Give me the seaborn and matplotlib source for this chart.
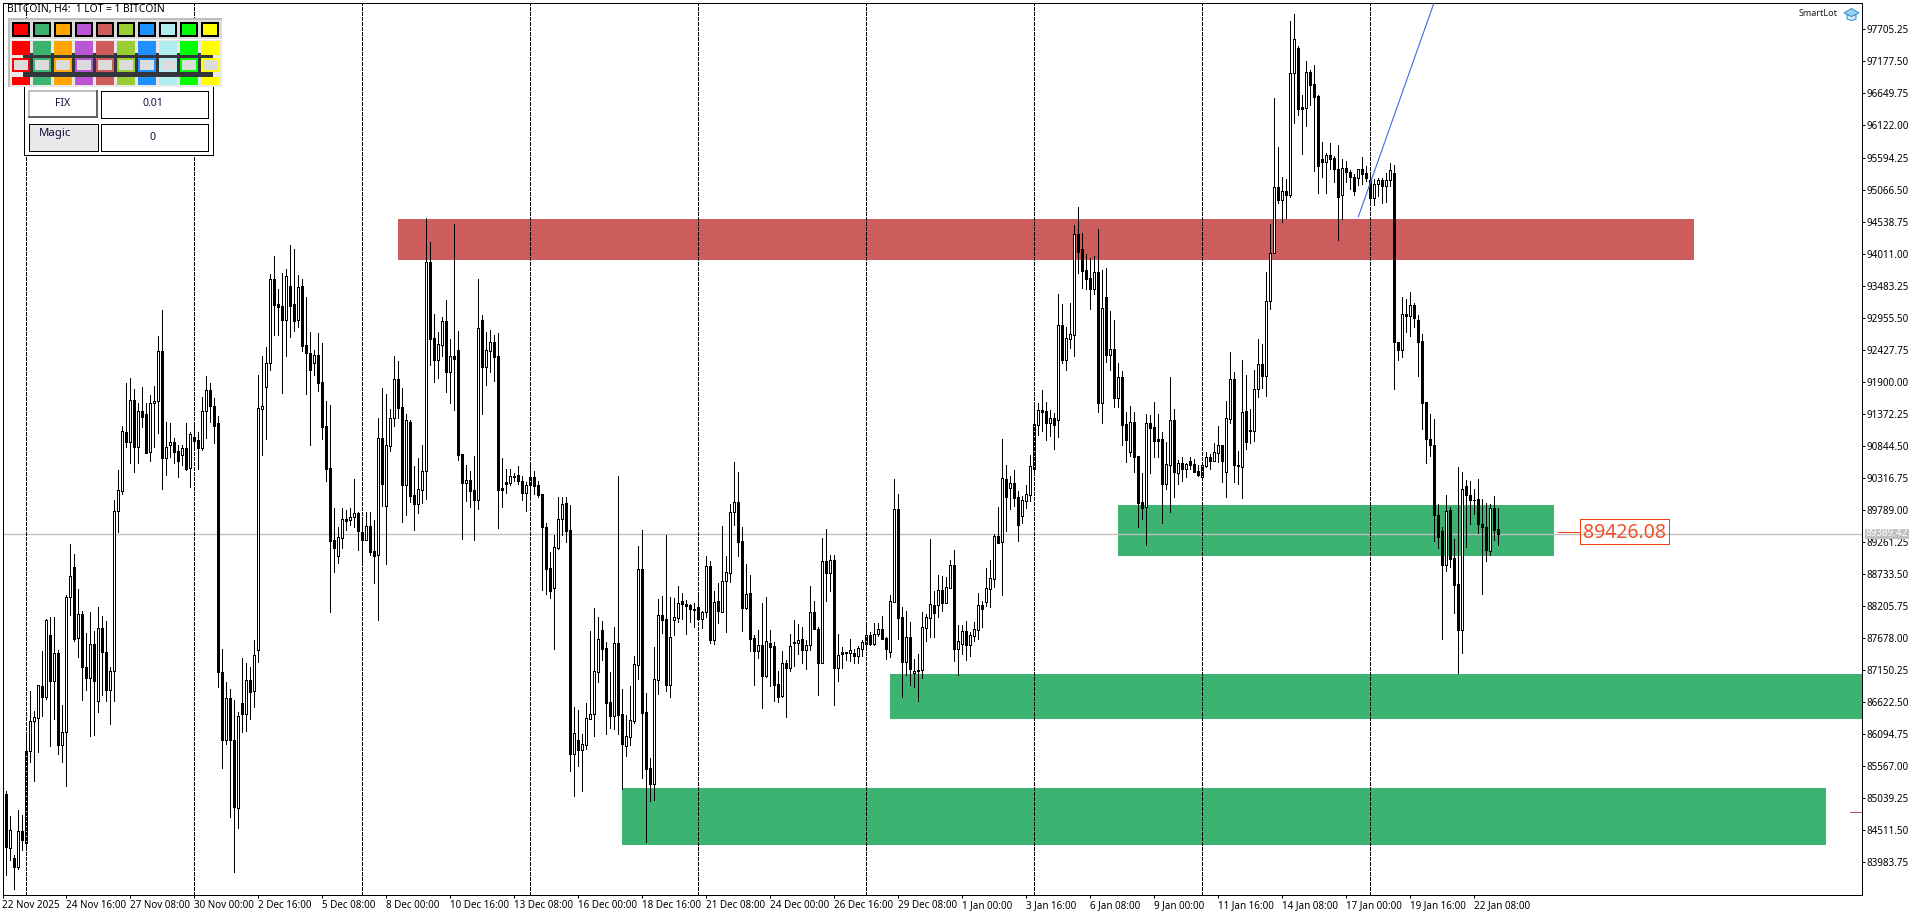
import matplotlib
matplotlib.use("Agg")
import matplotlib.pyplot as plt
from matplotlib.patches import Rectangle, Polygon
import numpy as np
import pandas as pd
import seaborn as sns

# BITCOIN H4 candles
opens = [
    85306, 85107, 84215, 84048, 83905, 84500, 84302, 85814, 86310, 86359,
    86886, 86700, 87728, 86979, 87437, 85925, 86124, 88354, 88844, 87673,
    88082, 87202, 87028, 87586, 86650, 87846, 87450, 86817, 87134, 89779,
    90108, 91068, 90901, 91601, 90833, 91421, 91372, 90752, 91545, 91576,
    92400, 90653, 90851, 90907, 90758, 90702, 90814, 90479, 90987, 90938,
    90802, 91415, 91762, 91496, 91217, 87115, 85993, 86694, 86000, 84878,
    86607, 86421, 86991, 86800, 87484, 91459, 91821, 92206, 93589, 93177,
    93144, 92925, 93474, 93177, 92925, 93474, 92502, 92381, 92206, 92337,
    91893, 91168, 90476, 89290, 89038, 89334, 89636, 89631, 89669, 89735,
    89428, 89301, 89521, 89109, 89054, 90970, 89861, 90850, 91300, 91948,
    91481, 90207, 91234, 90032, 89894, 90125, 90438, 93869, 92617, 92266,
    92513, 92897, 92063, 92321, 92420, 90707, 90240, 90279, 90114, 89960,
    92914, 92151, 92414, 92551, 92321, 90147, 90245, 90240, 90339, 90366,
    90262, 90075, 90207, 90328, 90196, 90048, 89504, 88835, 88511, 89164,
    89636, 89900, 89455, 85777, 86002, 85842, 85925, 86353, 86424, 87127,
    87808, 87511, 86622, 86402, 87594, 86424, 85908, 86057, 86320, 87242,
    88813, 86457, 85535, 85282, 86995, 88055, 87989, 86913, 87984, 88017,
    88286, 88242, 88225, 88143, 88187, 88000, 88104, 88862, 87654, 88286,
    88104, 88615, 88758, 89762, 89916, 89274, 88170, 88417, 87676, 87473,
    87561, 87056, 87594, 87544, 86918, 86726, 87264, 87193, 87605, 87605,
    87660, 87479, 87572, 88104, 87830, 87275, 88944, 88758, 88961, 87182,
    87451, 87451, 87440, 87429, 87391, 87506, 87583, 87731, 87583, 87748,
    87824, 87676, 87457, 88280, 89801, 88022, 87292, 87693, 87100, 87155,
    87149, 87852, 88017, 88225, 88220, 88467, 88264, 88511, 88878, 87506,
    87588, 87791, 87572, 87720, 87819, 88220, 88275, 88494, 88659, 89362,
    89257, 90294, 90157, 90229, 89998, 89696, 89943, 90042, 90470, 91195,
    91431, 91420, 91228, 91299, 91277, 92831, 92265, 92611, 92677, 94335,
    94082, 93737, 93605, 93435, 93704, 91557, 93292, 92348, 92435, 91639,
    91974, 91200, 90750, 91233, 90673, 89916, 89833, 91217, 91151, 90953,
    90953, 90223, 90536, 91266, 90404, 90558, 90470, 90596, 90541, 90432,
    90338, 90519, 90657, 90596, 90733, 90854, 90421, 91294, 91941, 90536,
    90503, 91420, 91090, 91093, 91775, 92191, 92001, 93226, 94028, 95105,
    94887, 95035, 94972, 96985, 97393, 96429, 96415, 96999, 96802, 96605,
    95570, 95528, 95633, 95584, 95408, 94972, 95415, 95359, 95267, 95253,
    95401, 95338, 95225, 94922, 95155, 95218, 95119, 95218, 95345, 92550,
    92430, 93014, 92979, 93162, 92916, 92571, 91564, 90952, 90867, 89706,
    89445, 88889, 89790, 89002, 88565, 87819, 90191, 90030, 89945, 89966,
    89558, 89509, 89121, 89825, 89474,
]
closes = [
    85089, 84234, 84525, 83905, 84500, 84345, 85814, 86310, 86372, 86904,
    86700, 87976, 86979, 87425, 85925, 86124, 88354, 88695, 87666, 88069,
    87196, 87028, 87580, 86979, 87840, 87443, 86817, 87134, 89767, 90114,
    91087, 90901, 91595, 90833, 91415, 91328, 90733, 91545, 91582, 92400,
    90653, 90820, 90907, 90752, 90603, 90808, 90461, 91037, 90925, 90802,
    91415, 91762, 91496, 91180, 87115, 85993, 86694, 85993, 84891, 86396,
    86421, 86985, 86787, 87400, 91464, 91508, 92206, 93589, 93172, 93139,
    92925, 93638, 93155, 92908, 93457, 92497, 92381, 92101, 92337, 91887,
    91162, 90471, 89285, 89170, 89340, 89636, 89609, 89680, 89735, 89450,
    89301, 89521, 89104, 89038, 90970, 90218, 90855, 91300, 91942, 91475,
    90202, 91267, 90026, 89894, 90130, 90427, 93869, 92612, 92266, 92518,
    92897, 92063, 92321, 92282, 90696, 90240, 90279, 90108, 89960, 92782,
    92151, 92420, 92551, 92315, 90125, 90119, 90223, 90344, 90355, 90267,
    90075, 90202, 90328, 90191, 90042, 89515, 88824, 88461, 89175, 89636,
    89883, 89449, 85777, 86112, 85842, 85930, 86359, 86424, 87133, 87660,
    87500, 86617, 86402, 87594, 86419, 85941, 86062, 86326, 87248, 88813,
    86452, 85530, 85282, 87001, 88055, 87984, 86913, 87693, 88022, 88264,
    88247, 88214, 88154, 88154, 88000, 88104, 88862, 87654, 88280, 88132,
    88615, 88763, 89762, 89916, 89268, 88181, 88412, 87671, 87473, 87561,
    87061, 87627, 87539, 86907, 86715, 87264, 87182, 87544, 87616, 87654,
    87479, 87572, 88104, 87835, 87275, 88944, 88758, 88961, 87193, 87396,
    87424, 87429, 87479, 87391, 87511, 87616, 87726, 87588, 87748, 87824,
    87665, 87506, 88286, 89801, 88017, 87292, 87693, 87177, 87133, 87133,
    87857, 88022, 88236, 88099, 88467, 88264, 88516, 88878, 87500, 87627,
    87791, 87566, 87726, 87824, 88220, 88165, 88500, 88664, 89362, 89252,
    90311, 90003, 90229, 89992, 89548, 89948, 90047, 90509, 91200, 91431,
    91403, 91228, 91299, 91195, 92831, 92260, 92617, 92683, 94330, 94044,
    93731, 93599, 93435, 93704, 91557, 93111, 92348, 92435, 91639, 91974,
    91195, 90948, 91233, 90668, 89910, 89828, 91217, 91145, 90931, 90931,
    90218, 90541, 91266, 90415, 90558, 90470, 90541, 90530, 90421, 90366,
    90525, 90657, 90602, 90739, 90854, 90602, 91299, 91941, 90536, 90519,
    91398, 90915, 91101, 91775, 92191, 92001, 93226, 94028, 95105, 94887,
    95035, 94972, 96985, 97555, 96394, 96394, 96999, 96795, 96598, 95450,
    95528, 95633, 95577, 95401, 94950, 95415, 95352, 95267, 95049, 95401,
    95324, 95260, 94922, 95155, 95218, 95119, 95218, 95387, 92550, 92430,
    93014, 92979, 93162, 92944, 92564, 91557, 90952, 90860, 89699, 89347,
    88875, 89769, 88988, 88558, 87819, 90128, 90030, 89945, 89952, 89551,
    89501, 89135, 89818, 89466, 89389,
]
highs = [
    85306, 85163, 84748, 84110, 84847, 84761, 86093, 86805, 86483, 86904,
    87468, 87989, 88032, 88032, 87487, 86582, 88385, 89234, 89067, 88490,
    88125, 87766, 88113, 87797, 88193, 88044, 87964, 87208, 89953, 90448,
    91167, 91880, 91966, 91781, 91545, 91812, 91545, 91688, 91824, 92648,
    93082, 91235, 91229, 90969, 90857, 90857, 91223, 91068, 91173, 91068,
    91644, 91991, 91873, 91638, 91341, 87499, 86960, 86842, 86663, 86464,
    87357, 87270, 87208, 87650, 92013, 92326, 92475, 93671, 93973, 93430,
    93688, 93754, 94155, 94089, 93660, 93595, 93293, 92722, 92420, 92700,
    92535, 91580, 91514, 89818, 89510, 89818, 89790, 89818, 90301, 89763,
    89653, 89763, 89752, 89625, 91300, 91799, 91700, 91448, 92326, 92244,
    91799, 91366, 91272, 90515, 90646, 90860, 94599, 94204, 93018, 92722,
    92974, 93249, 92606, 94500, 92738, 90707, 90526, 90432, 90674, 93589,
    92996, 92727, 92749, 92672, 92700, 90641, 90465, 90465, 90405, 90514,
    90350, 90256, 90547, 90427, 90262, 90048, 89570, 89098, 89378, 90004,
    90004, 90004, 89872, 86545, 86496, 86101, 86611, 87797, 88170, 88022,
    87962, 87616, 87116, 87863, 90350, 86842, 86413, 86891, 87385, 89191,
    89460, 86776, 85705, 87533, 88324, 88373, 89378, 88351, 88335, 88538,
    88417, 88313, 88247, 88253, 88390, 88132, 89027, 88955, 88456, 88588,
    89526, 89027, 89883, 90575, 90416, 89504, 88895, 88719, 87731, 87813,
    88253, 88357, 87808, 87621, 87138, 87467, 87319, 87748, 87978, 87912,
    87868, 87649, 88538, 88291, 87868, 89323, 89471, 89049, 89049, 87748,
    87539, 87457, 87665, 87500, 87555, 87643, 87912, 87786, 87929, 87934,
    88044, 87704, 88390, 90300, 90053, 88187, 88121, 87940, 87336, 87418,
    88104, 88077, 89312, 88456, 88714, 88703, 88692, 88966, 89131, 87896,
    87896, 87962, 87786, 87940, 88417, 88291, 88835, 88966, 89395, 89839,
    90959, 90525, 90349, 90443, 90102, 90020, 90201, 90690, 91568, 91552,
    91766, 91568, 91436, 91381, 93347, 93182, 92803, 93199, 94483, 94780,
    94351, 94000, 93934, 93973, 94417, 93742, 93770, 93061, 92913, 92205,
    92073, 91403, 91502, 91403, 90673, 90393, 91365, 91354, 91568, 91370,
    91069, 90909, 91980, 91447, 90613, 90662, 90558, 90662, 90624, 90530,
    90530, 90739, 90706, 90887, 91173, 90854, 91585, 92386, 92057, 90756,
    92260, 92013, 91453, 92092, 92599, 92522, 93711, 94500, 96570, 95760,
    95274, 95246, 97837, 97957, 97436, 96619, 97189, 97041, 97126, 96626,
    95845, 95662, 95838, 95612, 95802, 95563, 95542, 95387, 95317, 95408,
    95605, 95457, 95317, 95246, 95260, 95260, 95345, 95507, 95471, 92550,
    93296, 93261, 93381, 93204, 92993, 92691, 91564, 91374, 91290, 89889,
    89509, 90037, 89840, 89312, 90494, 90417, 90283, 90269, 90142, 90297,
    89966, 89896, 89882, 90023, 89825,
]
lows = [
    85089, 83769, 84017, 83552, 83868, 84184, 84184, 85634, 85331, 85795,
    86390, 86669, 85907, 86340, 85764, 85634, 85244, 88063, 87635, 87369,
    86663, 86830, 86062, 86086, 86464, 86743, 86650, 86266, 86650, 89426,
    90046, 90820, 90566, 90417, 90566, 91155, 90733, 90597, 90833, 91049,
    90139, 90368, 90665, 90566, 90337, 90523, 90448, 90170, 90771, 90467,
    90771, 90975, 91235, 90894, 86880, 85541, 85938, 84736, 83831, 84556,
    86124, 86155, 86340, 86550, 87287, 90696, 90959, 92096, 92672, 92672,
    91722, 92326, 92645, 92744, 92809, 92409, 91701, 90860, 92013, 91750,
    90959, 90273, 88115, 88774, 88912, 89170, 89461, 89543, 89515, 89131,
    88923, 89296, 89054, 88593, 87978, 89861, 88901, 90762, 91173, 91300,
    89592, 89708, 89927, 89461, 89746, 89900, 89977, 92178, 91898, 91970,
    92326, 91733, 91558, 91437, 90613, 89318, 89938, 89840, 89301, 89812,
    91377, 91849, 92057, 91909, 89499, 89845, 90075, 90207, 90267, 90213,
    89955, 89773, 90009, 90053, 90009, 88472, 88406, 88346, 87500, 89147,
    89378, 89263, 85491, 85079, 85574, 85162, 85859, 86347, 86068, 86962,
    87319, 86101, 86199, 86188, 86101, 85200, 85744, 85925, 86287, 87012,
    85381, 84327, 85002, 85013, 86765, 87769, 86814, 86710, 87731, 87945,
    87998, 87747, 87945, 87868, 87995, 87852, 88033, 87605, 87583, 87923,
    88104, 87780, 88610, 89548, 89038, 87797, 88154, 87468, 86908, 87347,
    86534, 87045, 86891, 86650, 86633, 86715, 86386, 87138, 87220, 87418,
    87275, 87177, 87484, 87830, 86743, 87275, 88291, 88456, 86578, 86979,
    87182, 87319, 87308, 87275, 87264, 87385, 87506, 87566, 87566, 87715,
    87660, 87336, 87363, 88280, 87665, 86710, 87072, 86908, 86880, 86650,
    87023, 87632, 87698, 87704, 88033, 88126, 88264, 88511, 87303, 87072,
    87413, 87319, 87385, 87638, 87665, 87868, 88209, 88198, 88522, 89241,
    88389, 89449, 89811, 89861, 89284, 89581, 89828, 89943, 90382, 91025,
    91090, 90942, 91008, 90799, 90992, 92216, 92095, 92457, 92326, 93698,
    93446, 93429, 93100, 93347, 91403, 91222, 92227, 92095, 91486, 91486,
    90860, 90580, 90679, 90415, 89509, 89641, 89218, 90399, 90662, 90662,
    89575, 90135, 89756, 90009, 90218, 90272, 90327, 90459, 90415, 90349,
    90338, 90503, 90459, 90596, 90580, 90256, 90009, 91228, 90256, 90218,
    89992, 90794, 90887, 90931, 91656, 91797, 91670, 93099, 94014, 94845,
    94528, 94599, 94951, 96168, 96295, 95654, 96119, 96464, 95373, 95014,
    95274, 95014, 95408, 95190, 94239, 94584, 95190, 95070, 94979, 95141,
    95155, 95211, 94824, 94817, 94965, 94845, 94866, 95126, 91775, 92254,
    92304, 92726, 92655, 92803, 91994, 91121, 90558, 90670, 89276, 89157,
    87657, 88790, 88847, 88093, 87101, 87432, 89171, 89558, 89720, 89403,
    88403, 88953, 89051, 89297, 89206,
]

y_ticks = [97705.25, 97177.50, 96649.75, 96122.00, 95594.25, 95066.50, 94538.75, 94011.00, 93483.25,
           92955.50, 92427.75, 91900.00, 91372.25, 90844.50, 90316.75, 89789.00, 89261.25, 88733.50,
           88205.75, 87678.00, 87150.25, 86622.50, 86094.75, 85567.00, 85039.25, 84511.50, 83983.75]
date_labels = ["22 Nov 2025", "24 Nov 16:00", "27 Nov 08:00", "30 Nov 00:00", "2 Dec 16:00", "5 Dec 08:00",
               "8 Dec 00:00", "10 Dec 16:00", "13 Dec 08:00", "16 Dec 00:00", "18 Dec 16:00", "21 Dec 08:00",
               "24 Dec 00:00", "26 Dec 16:00", "29 Dec 08:00", "1 Jan 00:00", "3 Jan 16:00", "6 Jan 08:00",
               "9 Jan 00:00", "11 Jan 16:00", "14 Jan 08:00", "17 Jan 00:00", "19 Jan 16:00", "22 Jan 08:00"]
date_candles = [i * 16 for i in range(len(date_labels))]
week_candles = [6 + 42 * i for i in range(9)]

# supply / demand zones: candle index from-to, price top-bottom
zone_from = [98.9, 278.9, 221.9, 154.9]
zone_to = [422.8, 387.9, 470, 455.9]
zone_top = [94582, 89872, 87088, 85211]
zone_bottom = [93907, 89032, 86347, 84272]
zone_colors = ["#CD5C5C", "#3CB371", "#3CB371", "#3CB371"]

bid_price = 89389.42
trend_x = [339, 357.9]
trend_y = [94620, 98140]

palette = ["#FF0000", "#3CB371", "#FFA500", "#BA55D3", "#CD5C5C", "#9ACD32", "#1E90FF", "#AFEEEE", "#00FF00", "#FFFF00"]

W, H = 1920, 915
sns.set_theme(style="white")
plt.rcParams["font.family"] = ["Noto Sans", "DejaVu Sans"]
LW = 0.72

fig = plt.figure(figsize=(W / 100, H / 100), dpi=100, facecolor="white")
ax = fig.add_axes([2.5 / W, 1 - 894.5 / H, 1859 / W, 892 / H])


def px_rect(x, y, w, h, fc="none", ec="none", lw=0.0, **kw):
    r = Rectangle((x / W, 1 - (y + h) / H), w / W, h / H, transform=fig.transFigure,
                  facecolor=fc, edgecolor=ec, linewidth=lw, antialiased=False, **kw)
    fig.add_artist(r)
    return r


def px_text(x, y, s, **kw):
    kw.setdefault("fontsize", 7.1)
    kw.setdefault("color", "black")
    kw.setdefault("va", "center")
    fig.text(x / W, 1 - y / H, s, **kw)


candles = pd.DataFrame({"open": opens, "high": highs, "low": lows, "close": closes})
candles["candle"] = np.arange(len(candles))
wicks = candles.melt(id_vars="candle", value_vars=["low", "high"], value_name="price").sort_values(["candle", "variable"])

# zones sit behind everything
ax.bar(zone_from, np.array(zone_top) - np.array(zone_bottom), width=np.array(zone_to) - np.array(zone_from),
       bottom=zone_bottom, align="edge", color=zone_colors, linewidth=0, zorder=1)
ax.axhline(bid_price, color="#C0C0C0", lw=1.0, zorder=2)

sns.lineplot(data=wicks, x="candle", y="price", units="candle", estimator=None, sort=False,
             color="black", lw=LW, legend=False, ax=ax, zorder=3, antialiased=False)

up = candles[candles["close"] >= candles["open"]]
down = candles[candles["close"] < candles["open"]]
ax.bar(up["candle"], up["close"] - up["open"], bottom=up["open"], width=0.5,
       facecolor="white", edgecolor="black", linewidth=LW, zorder=4, antialiased=False)
ax.bar(down["candle"], down["open"] - down["close"], bottom=down["close"], width=0.5,
       facecolor="black", edgecolor="black", linewidth=LW, zorder=4, antialiased=False)

for w in week_candles:
    ax.axvline(w, color="black", lw=LW, ls=(0, (3, 2)), zorder=5, antialiased=False)
ax.plot(trend_x, trend_y, color="#4169E1", lw=0.8, zorder=5)

ax.set_xlim(0.05, 464.8)
ax.set_ylim(83455, 98148)
ax.yaxis.tick_right()
ax.set_yticks(y_ticks)
ax.set_yticklabels([f"{v:.2f}" for v in y_ticks], fontsize=7.1, color="black")
ax.set_xticks(date_candles)
ax.set_xticklabels(date_labels, fontsize=7.1, ha="left", color="black")
ax.tick_params(axis="x", which="major", direction="out", length=2.4, width=LW, color="black",
               bottom=True, pad=1.5)
ax.tick_params(axis="y", which="major", direction="out", length=2.4, width=LW, color="black",
               right=True, left=False, pad=1.0)
ax.set_xlabel("")
ax.set_ylabel("")
for s in ax.spines.values():
    s.set_visible(True)
    s.set_color("black")
    s.set_linewidth(LW)

# price marker label on the right of the zone
px_rect(1558, 532, 22, 0, ec="#F04010", lw=LW)
px_rect(1580, 519, 88.5, 25, ec="#F04010", lw=LW)
px_text(1624.5, 533, "89426.08", fontsize=14, color="#F0502A", ha="center")
px_rect(1850, 812, 11, 0, ec="#C0504D", lw=LW)

# bid tag over the price scale
px_rect(1865, 529, 44, 10, fc="#C0C0C0")
px_text(1887, 534, f"{bid_price:.2f}", color="white", ha="center")

# header and logo
px_text(7, 9.5, "BITCOIN, H4:  1 LOT = 1 BITCOIN", fontsize=7.4)
px_text(1838, 13.5, "SmartLot", ha="right", color="#1A1A1A", fontsize=6.5)
fig.add_artist(Polygon([(1847 / W, 1 - 15 / H), (1847 / W, 1 - 19 / H), (1851.5 / W, 1 - 20.5 / H),
                        (1856 / W, 1 - 19 / H), (1856 / W, 1 - 15 / H)], closed=True,
                       transform=fig.transFigure, fc="#D5EDF9", ec="#3E97D1", lw=0.8))
fig.add_artist(Polygon([(1844 / W, 1 - 13 / H), (1851.5 / W, 1 - 8.5 / H), (1859 / W, 1 - 13 / H),
                        (1851.5 / W, 1 - 16.5 / H)], closed=True,
                       transform=fig.transFigure, fc="#9AD3F0", ec="#3E97D1", lw=0.8))

# trade panel
px_rect(23.5, 77, 189, 78, fc="white", ec="black", lw=LW)
px_rect(28, 90, 70, 28, fc="white")
px_rect(28, 90, 70, 2, fc="#C0C0C0")
px_rect(28, 90, 2, 28, fc="#C0C0C0")
px_rect(28, 116, 70, 2, fc="#646464")
px_rect(96, 90, 2, 28, fc="#646464")
px_text(62.5, 104, "FIX", ha="center", color="#101040", fontsize=7.6)
px_rect(100.5, 90.5, 107, 27, fc="white", ec="black", lw=LW)
px_text(153, 104, "0.01", ha="center", color="#101040", fontsize=7.6)
px_rect(28.5, 123.5, 69, 27, fc="#E9E9E9", ec="black", lw=LW)
px_text(55, 133.5, "Magic", ha="center", color="#101040", fontsize=8.2)
px_rect(100.5, 123.5, 107, 27, fc="white", ec="black", lw=LW)
px_text(153, 137.5, "0", ha="center", color="#101040", fontsize=7.6)

# colour picker over the panel header
px_rect(8, 18, 214, 69, fc="#E9E9E9")
px_rect(8, 18, 214, 21, fc="#DCDCDC")
px_rect(8, 18, 214, 2, fc="#BEBEBE")
px_rect(8, 18, 2, 69, fc="#BEBEBE")
px_rect(10, 39, 212, 1, fc="white")
px_rect(23, 53, 190, 24, fc="#33373C")
for n, c in enumerate(palette):
    x = 12 + 21 * n
    px_rect(x, 22, 18, 15, fc="black")
    px_rect(x + 2, 24, 14, 11, fc=c)
    px_rect(x, 41, 18, 14, fc=c)
    px_rect(x, 58, 18, 14, fc=c)
    px_rect(x + 2, 60, 14, 10, fc="#DCDCDC")
    px_rect(x, 77, 18, 8, fc=c)

fig.savefig("out.png", dpi=100, facecolor="white")
